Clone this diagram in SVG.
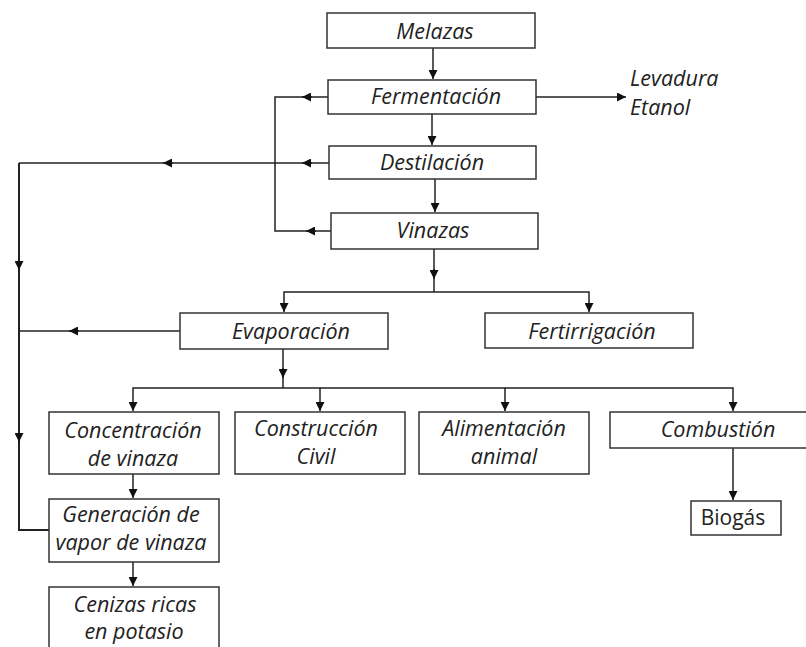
<svg xmlns="http://www.w3.org/2000/svg" width="806" height="647" viewBox="0 0 806 647">
<style>
.box{fill:#fff;stroke:#333;stroke-width:1.5}
.t{font-family:"Open Sans","Liberation Sans",sans-serif;font-style:italic;font-size:21.5px;fill:#222;text-anchor:middle}
.n{font-family:"Open Sans","Liberation Sans",sans-serif;font-size:21px;fill:#222;text-anchor:middle}
.c{fill:none;stroke:#222;stroke-width:1.5}
.a{fill:none;stroke:#222;stroke-width:1.5;marker-end:url(#arr)}
</style>
<defs>
<marker id="arr" markerUnits="userSpaceOnUse" markerWidth="9" markerHeight="9" viewBox="0 0 10 10" refX="10" refY="5" orient="auto">
<path d="M0,0 L10,5 L0,10 z" fill="#111"/>
</marker>
</defs>
<rect width="806" height="647" fill="#fff"/>
<g id="connectors">
<line class="a" x1="433" y1="48" x2="433" y2="79"/>
<line class="a" x1="432" y1="114" x2="432" y2="145"/>
<line class="a" x1="435" y1="179" x2="435" y2="212"/>
<line class="a" x1="536" y1="97" x2="626" y2="97"/>
<path class="c" d="M328,97 H275 V231 H331"/>
<line class="a" x1="312" y1="97" x2="302" y2="97"/>
<line class="a" x1="316" y1="231" x2="306" y2="231"/>
<path class="c" d="M329,163 H19"/>
<line class="a" x1="312" y1="163" x2="302" y2="163"/>
<line class="a" x1="173" y1="163" x2="163" y2="163"/>
<path class="c" d="M19,163 V530 H49" style="stroke-width:2"/>
<line class="a" x1="19" y1="260" x2="19" y2="270"/>
<line class="a" x1="19" y1="432" x2="19" y2="442"/>
<path class="c" d="M180,331 H19"/>
<line class="a" x1="79" y1="331" x2="69" y2="331"/>
<path class="c" d="M434,249 V292"/>
<line class="a" x1="434" y1="269" x2="434" y2="279"/>
<path class="a" d="M434,292 H284 V312"/>
<path class="a" d="M434,292 H589 V312"/>
<path class="c" d="M283,349 V388"/>
<line class="a" x1="283" y1="368" x2="283" y2="378"/>
<path class="a" d="M283,388 H133 V411"/>
<path class="a" d="M283,388 H320 V411"/>
<path class="a" d="M320,388 H505 V411"/>
<path class="a" d="M505,388 H733 V411"/>
<line class="a" x1="733" y1="448" x2="733" y2="500"/>
<line class="a" x1="133" y1="474" x2="133" y2="498"/>
<line class="a" x1="133" y1="562" x2="133" y2="586"/>
</g>
<g id="melazas"><rect class="box" x="327" y="13" width="208" height="35"/><text class="t" x="435" y="38.5">Melazas</text></g>
<g id="fermentacion"><rect class="box" x="328" y="80" width="208" height="34"/><text class="t" x="436" y="104">Fermentación</text></g>
<g id="levadura-etanol"><text class="t" style="text-anchor:start" x="630" y="86">Levadura</text><text class="t" style="text-anchor:start" x="630" y="115">Etanol</text></g>
<g id="destilacion"><rect class="box" x="329" y="146" width="207" height="33"/><text class="t" x="432" y="170">Destilación</text></g>
<g id="vinazas"><rect class="box" x="331" y="213" width="207" height="36"/><text class="t" x="433" y="238">Vinazas</text></g>
<g id="evaporacion"><rect class="box" x="180" y="313" width="208" height="36"/><text class="t" x="291" y="339">Evaporación</text></g>
<g id="fertirrigacion"><rect class="box" x="485" y="313" width="208" height="35"/><text class="t" x="592" y="339">Fertirrigación</text></g>
<g id="concentracion"><rect class="box" x="49" y="412" width="170" height="62"/><text class="t" x="133" y="438">Concentración</text><text class="t" x="133" y="466">de vinaza</text></g>
<g id="construccion"><rect class="box" x="235" y="412" width="170" height="62"/><text class="t" x="316" y="436">Construcción</text><text class="t" x="316" y="464">Civil</text></g>
<g id="alimentacion"><rect class="box" x="419" y="412" width="170" height="62"/><text class="t" x="504" y="436">Alimentación</text><text class="t" x="504" y="464">animal</text></g>
<g id="combustion"><rect class="box" x="610" y="412" width="210" height="36"/><text class="t" x="718" y="437">Combustión</text></g>
<g id="biogas"><rect class="box" x="691" y="501" width="90" height="34"/><text class="n" x="733" y="525">Biogás</text></g>
<g id="generacion"><rect class="box" x="49" y="499" width="170" height="63"/><text class="t" x="131" y="522">Generación de</text><text class="t" x="131" y="550">vapor de vinaza</text></g>
<g id="cenizas"><rect class="box" x="49" y="587" width="170" height="80"/><text class="t" x="135" y="612">Cenizas ricas</text><text class="t" x="134" y="639">en potasio</text></g>
</svg>
